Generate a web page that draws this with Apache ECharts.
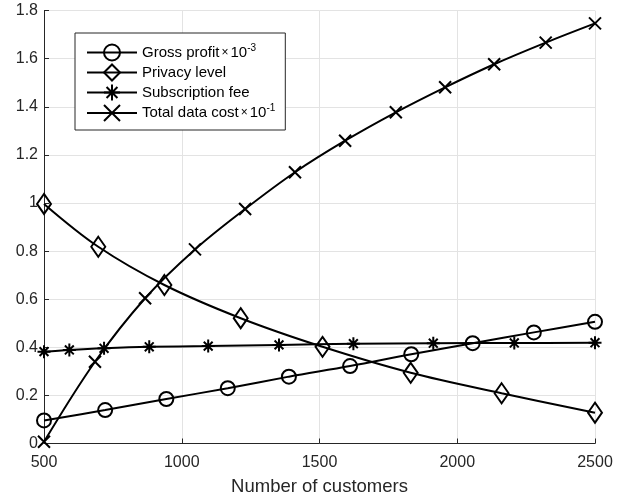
<!DOCTYPE html>
<html>
<head>
<meta charset="utf-8">
<script src="https://cdn.jsdelivr.net/npm/echarts@6/dist/echarts.min.js"></script>
<style>html,body{margin:0;padding:0;background:#fff;}#c{width:636px;height:502px;}</style>
</head>
<body>
<div id="c"></div>
<script>
// Data
var profitX = [500, 722, 944, 1167, 1389, 1611, 1833, 2056, 2278, 2500];
var profitY = [0.096, 0.139, 0.185, 0.230, 0.278, 0.322, 0.371, 0.417, 0.462, 0.506];

var privacyX = [500, 697, 937, 1214, 1511, 1831, 2161, 2500];
var privacyY = [0.996, 0.818, 0.659, 0.521, 0.402, 0.294, 0.209, 0.128];

var feeX = [500, 592, 718, 882, 1096, 1353, 1623, 1913, 2207, 2500];
var feeY = [0.382, 0.389, 0.396, 0.402, 0.405, 0.410, 0.415, 0.417, 0.418, 0.419];

var costX = [500, 685, 867, 1048, 1230, 1411, 1593, 1777, 1956, 2134, 2321, 2500];
var costY = [0.007, 0.340, 0.604, 0.807, 0.975, 1.128, 1.259, 1.377, 1.481, 1.577, 1.667, 1.747];

var xTicks = [500, 1000, 1500, 2000, 2500];
var yTicks = [0, 0.2, 0.4, 0.6, 0.8, 1, 1.2, 1.4, 1.6, 1.8];

var seriesNames = ['Gross profit', 'Privacy level', 'Subscription fee', 'Total data cost'];
var legendLabels = {
  'Gross profit': 'Gross profit{x|×}10{sup|-3}',
  'Privacy level': 'Privacy level',
  'Subscription fee': 'Subscription fee',
  'Total data cost': 'Total data cost{x|×}10{sup|-1}'
};

function pairs(xs, ys) { return xs.map(function (x, i) { return [x, ys[i]]; }); }

var FONT = 'Liberation Sans, Arial, sans-serif';
var STAR = 'path://M5 0 L5 10 M0 5 L10 5 M1.6 1.6 L8.4 8.4 M1.6 8.4 L8.4 1.6';
var CROSS = 'path://M0 0 L10 10 M0 10 L10 0';

function mk(name, data, symbol, size) {
  return {
    name: name, type: 'line', data: data, smooth: 0.35,
    symbol: symbol, symbolSize: size, showAllSymbol: true,
    lineStyle: { color: '#000', width: 2 },
    itemStyle: { color: 'rgba(255,255,255,0)', borderColor: '#000', borderWidth: 2 },
    emphasis: { disabled: true }
  };
}

var chart = echarts.init(document.getElementById('c'));
chart.setOption({
  animation: false,
  backgroundColor: '#fff',
  grid: { left: 44, right: 41, top: 10.6, bottom: 58.5, containLabel: false },
  legend: {
    orient: 'vertical', left: 75, top: 33,
    padding: [10, 10, 8, 11],
    backgroundColor: '#fff', borderColor: '#262626', borderWidth: 1,
    itemWidth: 50, itemHeight: 20, itemGap: 2,
    data: seriesNames,
    formatter: function (n) { return legendLabels[n]; },
    textStyle: {
      fontFamily: FONT, fontSize: 15, color: '#000',
      rich: {
        x: { fontSize: 12, fontFamily: FONT, color: '#000', padding: [0, 2, 0, 2] },
        sup: { fontSize: 10, fontFamily: FONT, color: '#000', verticalAlign: 'top', padding: [0, 0, 9, 0] }
      }
    }
  },
  xAxis: {
    type: 'value', min: 500, max: 2500, interval: 500,
    name: 'Number of customers', nameLocation: 'middle', nameGap: 34,
    nameTextStyle: { fontFamily: FONT, fontSize: 18.5, color: '#262626' },
    axisLine: { show: true, onZero: false, lineStyle: { color: '#262626', width: 1 } },
    axisTick: { show: true, inside: true, length: 5, lineStyle: { color: '#262626' } },
    axisLabel: { fontFamily: FONT, fontSize: 16, color: '#262626', margin: 11,
      formatter: function (v) { return String(v); } },
    splitLine: { show: true, lineStyle: { color: '#e3e3e3', width: 1 } }
  },
  yAxis: {
    type: 'value', min: 0, max: 1.8, interval: 0.2,
    axisLine: { show: true, lineStyle: { color: '#262626', width: 1 } },
    axisTick: { show: true, inside: true, length: 5, lineStyle: { color: '#262626' } },
    axisLabel: { fontFamily: FONT, fontSize: 16, color: '#262626', margin: 6,
      formatter: function (v) { return String(Math.round(v * 10) / 10); } },
    splitLine: { show: true, lineStyle: { color: '#e3e3e3', width: 1 } }
  },
  series: [
    mk('Gross profit', pairs(profitX, profitY), 'circle', 14),
    mk('Privacy level', pairs(privacyX, privacyY), 'diamond', [14, 20]),
    mk('Subscription fee', pairs(feeX, feeY), STAR, 13),
    mk('Total data cost', pairs(costX, costY), CROSS, 12)
  ]
});
</script>
</body>
</html>
